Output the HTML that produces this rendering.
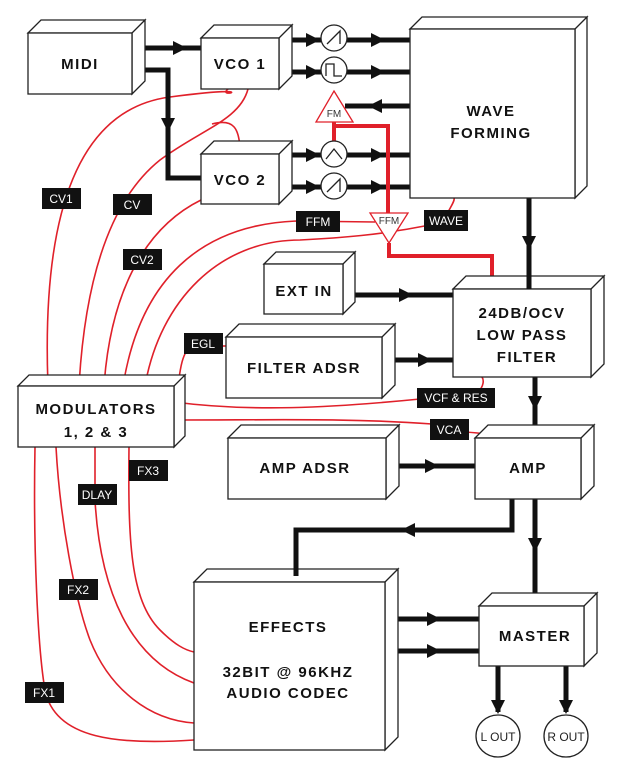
<!DOCTYPE html>
<html><head><meta charset="utf-8"><style>
html,body{margin:0;padding:0;background:#fff}
svg{display:block}
.b{font-family:"Liberation Sans",sans-serif;font-weight:bold;font-size:15px;letter-spacing:1.5px;fill:#111;text-anchor:middle}
.l{font-family:"Liberation Sans",sans-serif;font-size:12px;fill:#fff;text-anchor:middle}
.r{fill:none;stroke:#e0202a;stroke-width:1.6}
.k{fill:none;stroke:#111;stroke-width:5}
.bx{fill:#fff;stroke:#222;stroke-width:1.3}
</style></head><body>
<svg width="624" height="776" viewBox="0 0 624 776" xmlns="http://www.w3.org/2000/svg">
<g class="r">
<path d="M48,386 C42,230 70,110 170,97 S215,100 228,89"/>
<path d="M79,386 C85,280 110,200 160,160 C200,130 240,120 248,89"/>
<path d="M212,124 C235,118 238,130 240,146"/>
<path d="M104,386 C110,300 140,230 201,200"/>
<path d="M123,386 C140,280 200,225 296,221 L375,222"/>
<path d="M145,386 C160,300 220,240 300,240 C340,238 380,235 430,225"/>
<path d="M448,212 C452,205 455,200 454,198"/>
<path d="M178,386 C180,370 182,352 192,345"/>
<path d="M223,346 L226,346"/>
<path d="M174,402 C250,412 330,408 420,399"/>
<path d="M478,392 C484,386 484,380 482,377"/>
<path d="M174,420 C280,420 350,418 432,424"/>
<path d="M465,432 C480,433 490,434 500,438"/>
<path d="M35,447 C33,550 38,650 45,690 C55,740 120,745 194,740"/>
<path d="M56,447 C60,520 75,600 90,640 C110,690 150,720 194,723"/>
<path d="M95,447 L95,500 C100,590 130,660 194,683"/>
<path d="M129,447 C128,540 130,600 160,630 C175,645 185,650 194,652"/>
</g>
<g class="k">
<path d="M138,48 H201"/>
<path d="M138,70 H168 V178 H201"/>
<path d="M292,40 H321 M347,40 H410"/>
<path d="M292,72 H321 M347,72 H410"/>
<path d="M292,155 H321 M347,155 H410"/>
<path d="M292,187 H321 M347,187 H410"/>
<path d="M410,106 H345"/>
<path d="M529,198 V289"/>
<path d="M351,295 H453"/>
<path d="M388,360 H453"/>
<path d="M535,377 V438"/>
<path d="M393,466 H475"/>
<path d="M512,499 V530 H296 V575"/>
<path d="M535,499 V606"/>
<path d="M393,619 H479 M393,651 H479"/>
<path d="M498,666 V712 M566,666 V712"/>
</g>
<g fill="#111">
<polygon points="173,41 187,48 173,55"/>
<polygon points="161,118 175,118 168,132"/>
<polygon points="306,33 320,40 306,47"/><polygon points="371,33 385,40 371,47"/>
<polygon points="306,65 320,72 306,79"/><polygon points="371,65 385,72 371,79"/>
<polygon points="306,148 320,155 306,162"/><polygon points="371,148 385,155 371,162"/>
<polygon points="306,180 320,187 306,194"/><polygon points="371,180 385,187 371,194"/>
<polygon points="382,99 368,106 382,113"/>
<polygon points="522,236 536,236 529,250"/>
<polygon points="399,288 413,295 399,302"/>
<polygon points="418,353 432,360 418,367"/>
<polygon points="528,396 542,396 535,410"/>
<polygon points="425,459 439,466 425,473"/>
<polygon points="415,523 401,530 415,537"/>
<polygon points="528,538 542,538 535,552"/>
<polygon points="427,612 441,619 427,626"/><polygon points="427,644 441,651 427,658"/>
<polygon points="491,700 505,700 498,714"/><polygon points="559,700 573,700 566,714"/>
</g>
<g fill="none" stroke="#e0202a" stroke-width="4">
<path d="M334,122 V142"/>
<path d="M334,126 H388 V213"/>
<path d="M389,243 V256 H492 V282"/>
</g>
<polygon points="334,91 353,122 316,122" fill="#fff" stroke="#e0202a" stroke-width="1.3"/>
<text x="334" y="117" font-family="Liberation Sans,sans-serif" font-size="10" fill="#333" text-anchor="middle">FM</text>
<polygon points="370,213 408,213 389,243" fill="#fff" stroke="#e0202a" stroke-width="1.3"/>
<text x="389" y="224" font-family="Liberation Sans,sans-serif" font-size="10" fill="#333" text-anchor="middle">FFM</text>
<g fill="#fff" stroke="#222" stroke-width="1.3">
<circle cx="334" cy="38" r="13"/><circle cx="334" cy="70" r="13"/>
<circle cx="334" cy="154" r="13"/><circle cx="334" cy="186" r="13"/>
</g>
<g fill="none" stroke="#222" stroke-width="1.3">
<path d="M327,44 L340,31 V44"/>
<path d="M326,76 V64 H334 V76 H342"/>
<path d="M326,159 L334,149 L342,159"/>
<path d="M327,192 L340,179 V192"/>
</g>
<g class="bx">
<path d="M28,33 L41,20 H145 L132,33 Z M132,33 L145,20 V81 L132,94 Z"/><rect x="28" y="33" width="104" height="61"/>
<path d="M201,38 L214,25 H292 L279,38 Z M279,38 L292,25 V76 L279,89 Z"/><rect x="201" y="38" width="78" height="51"/>
<path d="M201,154 L214,141 H292 L279,154 Z M279,154 L292,141 V191 L279,204 Z"/><rect x="201" y="154" width="78" height="50"/>
<path d="M410,29 L422,17 H587 L575,29 Z M575,29 L587,17 V186 L575,198 Z"/><rect x="410" y="29" width="165" height="169"/>
<path d="M264,264 L276,252 H355 L343,264 Z M343,264 L355,252 V302 L343,314 Z"/><rect x="264" y="264" width="79" height="50"/>
<path d="M453,289 L466,276 H604 L591,289 Z M591,289 L604,276 V364 L591,377 Z"/><rect x="453" y="289" width="138" height="88"/>
<path d="M226,337 L239,324 H395 L382,337 Z M382,337 L395,324 V385 L382,398 Z"/><rect x="226" y="337" width="156" height="61"/>
<path d="M18,386 L29,375 H185 L174,386 Z M174,386 L185,375 V436 L174,447 Z"/><rect x="18" y="386" width="156" height="61"/>
<path d="M228,438 L241,425 H399 L386,438 Z M386,438 L399,425 V486 L386,499 Z"/><rect x="228" y="438" width="158" height="61"/>
<path d="M475,438 L488,425 H594 L581,438 Z M581,438 L594,425 V486 L581,499 Z"/><rect x="475" y="438" width="106" height="61"/>
<path d="M194,582 L207,569 H398 L385,582 Z M385,582 L398,569 V737 L385,750 Z"/><rect x="194" y="582" width="191" height="168"/>
<path d="M479,606 L492,593 H597 L584,606 Z M584,606 L597,593 V653 L584,666 Z"/><rect x="479" y="606" width="105" height="60"/>
</g>
<g stroke="#111" stroke-width="5"><path d="M296,560 V576"/><path d="M529,270 V289"/></g>
<text class="b" x="80" y="69">MIDI</text>
<text class="b" x="240" y="69">VCO 1</text>
<text class="b" x="240" y="185">VCO 2</text>
<text class="b" x="491" y="116">WAVE</text>
<text class="b" x="491" y="138">FORMING</text>
<text class="b" x="304" y="296">EXT IN</text>
<text class="b" x="522" y="318">24DB/OCV</text>
<text class="b" x="522" y="340">LOW PASS</text>
<text class="b" x="527" y="362">FILTER</text>
<text class="b" x="304" y="373">FILTER ADSR</text>
<text class="b" x="96" y="414">MODULATORS</text>
<text class="b" x="96" y="437">1, 2 &amp; 3</text>
<text class="b" x="305" y="473">AMP ADSR</text>
<text class="b" x="528" y="473">AMP</text>
<text class="b" x="288" y="632">EFFECTS</text>
<text class="b" x="288" y="677">32BIT @ 96KHZ</text>
<text class="b" x="288" y="698">AUDIO CODEC</text>
<text class="b" x="535" y="641">MASTER</text>
<g fill="#fff" stroke="#222" stroke-width="1.3">
<ellipse cx="498" cy="736" rx="22" ry="21"/><ellipse cx="566" cy="736" rx="22" ry="21"/>
</g>
<text x="498" y="741" font-family="Liberation Sans,sans-serif" font-size="12" fill="#222" text-anchor="middle">L OUT</text>
<text x="566" y="741" font-family="Liberation Sans,sans-serif" font-size="12" fill="#222" text-anchor="middle">R OUT</text>
<g fill="#111">
<rect x="42" y="188" width="39" height="21"/><rect x="113" y="194" width="39" height="21"/>
<rect x="123" y="249" width="39" height="21"/><rect x="296" y="211" width="44" height="21"/>
<rect x="424" y="210" width="44" height="21"/><rect x="184" y="333" width="39" height="21"/>
<rect x="417" y="388" width="78" height="20"/><rect x="430" y="419" width="39" height="21"/>
<rect x="129" y="460" width="39" height="21"/><rect x="78" y="484" width="39" height="21"/>
<rect x="59" y="579" width="39" height="21"/><rect x="25" y="682" width="39" height="21"/>
</g>
<g class="l">
<text x="61" y="203">CV1</text><text x="132" y="209">CV</text>
<text x="142" y="264">CV2</text><text x="318" y="226">FFM</text>
<text x="446" y="225">WAVE</text><text x="203" y="348">EGL</text>
<text x="456" y="402">VCF &amp; RES</text><text x="449" y="434">VCA</text>
<text x="148" y="475">FX3</text><text x="97" y="499">DLAY</text>
<text x="78" y="594">FX2</text><text x="44" y="697">FX1</text>
</g>
</svg>
</body></html>
